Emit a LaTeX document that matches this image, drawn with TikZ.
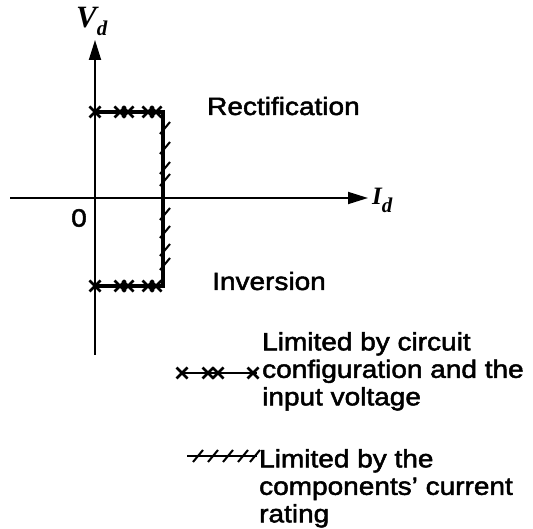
\documentclass[tikz,border=0pt]{standalone}
\usepackage{graphicx}
\usepackage{fontspec}
\setmainfont{Liberation Sans}[FakeStretch=1.12, FakeBold=2]
\newfontfamily\axisfont{Liberation Serif}
\usepackage{tikz}
\usetikzlibrary{arrows.meta}
\newcommand{\axlbl}[3]{{\axisfont\bfseries\itshape\fontsize{#1}{#1}\selectfont #2\raisebox{-7.5pt}{\fontsize{21}{21}\selectfont #3}}}

\begin{document}
\begin{tikzpicture}[x=1pt, y=-1pt,
        axis/.style={line width=1.8pt, -{Triangle[length=20pt, width=12pt]}},
        limit/.style={line width=3.6pt, line join=miter},
        legline/.style={line width=2pt},
        txt/.style={inner sep=0pt, align=left, font=\fontsize{25}{27.5}\selectfont},
        xcross/.pic={\draw[line width=2.8pt] (-5.5pt,-5.5pt) -- (5.5pt,5.5pt) (-5.5pt,5.5pt) -- (5.5pt,-5.5pt);},
        slash/.pic={\draw[line width=2pt] (-5pt,-6pt) -- (5pt,6pt);}
      ]
        \useasboundingbox (0,0) rectangle (533,529);

        % axes
        \coordinate (vbot) at (95,355);
        \coordinate (vtop) at (95,40);
        \coordinate (hleft) at (10,198);
        \coordinate (hright) at (368,198);
        \draw[axis] (vbot) -- (vtop);
        \draw[axis] (hleft) -- (hright);
        \node[inner sep=0pt, anchor=base west] (vd) at (76,28) {\axlbl{31}{V}{d}};
        \node[inner sep=0pt, anchor=base west] (id) at (372,205) {\axlbl{25}{I}{d}};
        \node[txt] (zero) at (79,218) {0};

        % operating region
        \coordinate (tl) at (95,112);
        \coordinate (tr) at (163,112);
        \coordinate (br) at (163,286);
        \coordinate (bl) at (95,286);
        \draw[limit] (tl) -- (tr) -- (br) -- (bl);
        \foreach \x in {95,120,128,148,156} {
          \pic at (\x,112) {xcross};
          \pic at (\x,286) {xcross};
        }
        \foreach \y in {128,148,168,180,214,232,250,264}
          \pic at (165,\y) {slash};

        \node[txt, anchor=base west] (rect) at (207,115) {Rectification};
        \node[txt, anchor=base west] (inv)  at (212,290) {Inversion};

        % legend
        \coordinate (la) at (180,373);
        \coordinate (lb) at (257,373);
        \draw[legline] (la) -- (lb);
        \foreach \x in {182,208,218,253}
          \pic at (\x,373) {xcross};
        \node[txt, anchor=north west] (lim1) at (262,332)
          {Limited by circuit\\configuration and the\\input voltage};

        \coordinate (ma) at (187,456);
        \coordinate (mb) at (257,456);
        \draw[legline] (ma) -- (mb);
        \foreach \x in {198,213,228,243,255}
          \pic at (\x,456) {slash};
        \node[txt, anchor=north west] (lim2) at (259,449)
          {Limited by the\\components' current\\rating};
      \end{tikzpicture}
\end{document}
